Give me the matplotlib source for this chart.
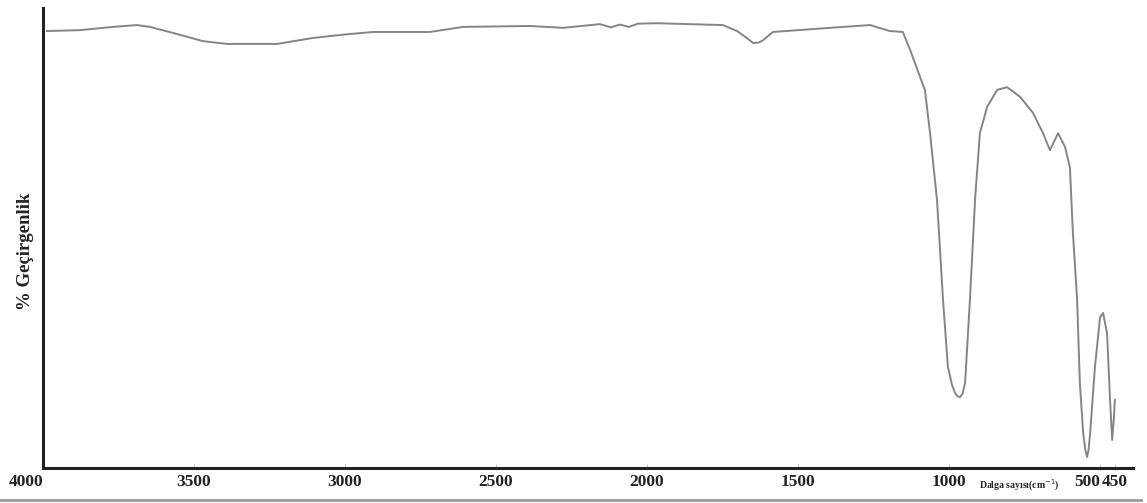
import numpy as np
import matplotlib
matplotlib.use("Agg")
import matplotlib.pyplot as plt
from matplotlib.lines import Line2D

# FTIR spectrum (wavenumber cm-1, % transmittance)
wavenumber = [3987, 3877, 3768, 3689, 3646, 3570, 3470, 3391, 3225, 3106,
              2993, 2907, 2719, 2609, 2388, 2278, 2156, 2120, 2090, 2060,
              2030, 1967, 1749, 1702, 1670, 1649, 1630, 1616, 1583, 1394,
              1262, 1196, 1153, 1129, 1096, 1080, 1063, 1040, 1020, 1004,
              990, 980, 972, 964, 955, 947, 931, 914, 898, 874,
              841, 808, 765, 722, 689, 666, 639, 616, 600, 590,
              576, 567, 556, 549, 543, 538, 533, 517, 500, 490,
              477, 467, 460, 454, 451]
transmittance = [95.0, 95.2, 95.9, 96.3, 95.9, 94.6, 92.8, 92.2, 92.2, 93.5,
                 94.3, 94.8, 94.8, 95.9, 96.1, 95.7, 96.5, 95.8, 96.4, 95.9,
                 96.6, 96.7, 96.3, 95.0, 93.5, 92.4, 92.5, 93.0, 94.8, 95.7,
                 96.3, 95.0, 94.8, 90.9, 85.0, 82.2, 72.8, 58.3, 36.5, 22.0,
                 18.0, 16.3, 15.6, 15.4, 16.2, 18.5, 36.5, 58.3, 72.8, 78.5,
                 82.2, 82.8, 80.7, 77.2, 72.8, 69.1, 72.8, 69.8, 65.4, 51.1,
                 36.5, 18.5, 7.6, 4.0, 2.4, 4.0, 7.6, 22.0, 32.8, 33.7,
                 29.3, 14.8, 6.1, 11.1, 14.8]

tick_pos = [4000, 3500, 3000, 2500, 2000, 1500, 1000, 500, 450]
tick_lab = ["4000", "3500", "3000", "2500", "2000", "1500", "1000", "500", "450"]

plt.rcParams['font.family'] = ['Liberation Serif', 'DejaVu Serif']

fig = plt.figure(figsize=(11.47, 5.03), dpi=100)
ax = fig.add_axes([0.0375, 0.0696, 0.9503, 0.9144])

ax.plot(wavenumber, transmittance, color='#858585', lw=1.4)

ax.set_xlim(4000, 391)
ax.set_ylim(0, 100)

for s in ['top', 'right']:
    ax.spines[s].set_visible(False)
for s in ['left', 'bottom']:
    ax.spines[s].set_linewidth(2.2)
    ax.spines[s].set_color('#222222')

ax.set_yticks([])
ax.set_xticks(tick_pos)
ax.set_xticklabels(tick_lab, fontsize=12.5, fontweight='bold', color='#222222')
ax.tick_params(axis='x', direction='in', length=3, width=0.6, color='#bbbbbb', pad=4)
labs = ax.get_xticklabels()
labs[0].set_horizontalalignment('right')
labs[7].set_horizontalalignment('right')

ax.text(769, -0.022, "Dalga sayısı(cm$^{-1}$)", transform=ax.get_xaxis_transform(),
        fontsize=7, fontweight='bold', ha='center', va='top', color='#222222')

fig.text(0.022, 0.50, "% Geçirgenlik", rotation=90, fontsize=13.5, fontweight='bold',
         ha='center', va='center', color='#222222')

fig.add_artist(Line2D([0.0, 0.995], [0.006, 0.006], transform=fig.transFigure,
                      color='#9a9a9a', lw=2))

fig.savefig("out.png", dpi=100, facecolor='white')
